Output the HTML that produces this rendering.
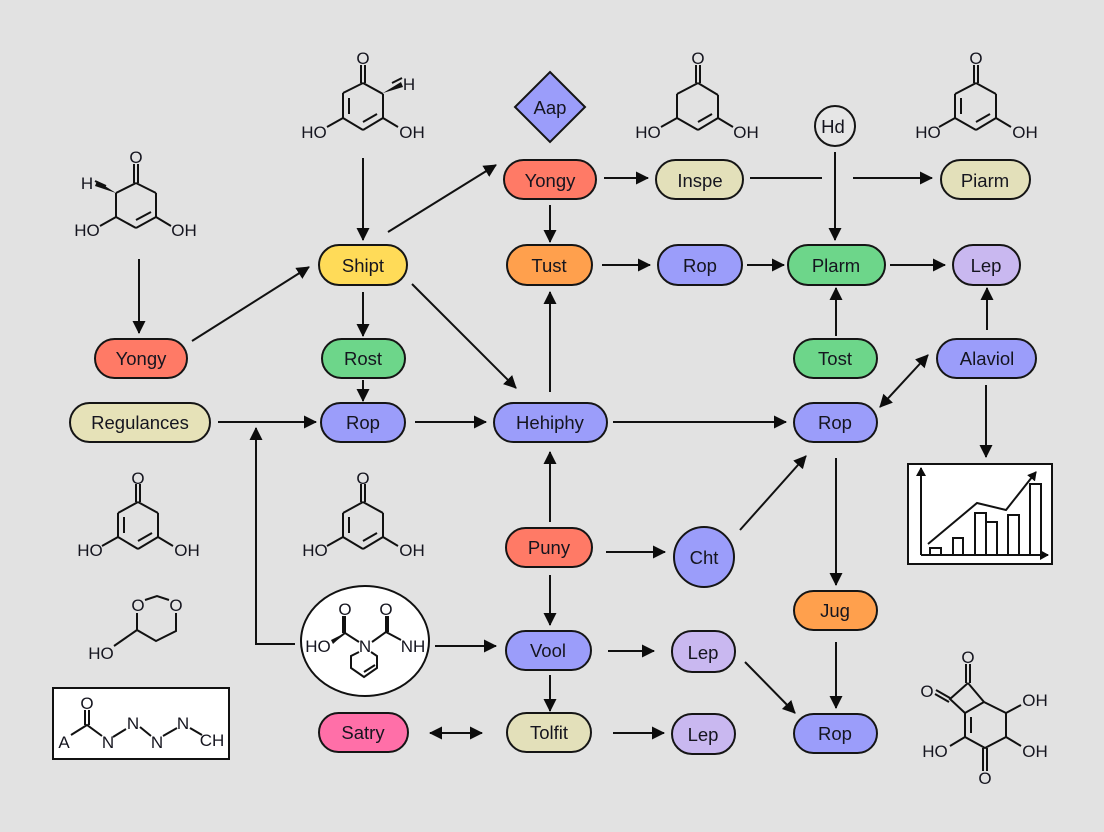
<!DOCTYPE html>
<html><head><meta charset="utf-8"><style>
html,body{margin:0;padding:0;background:#e2e2e2}
svg{display:block}
text{font-family:"Liberation Sans",sans-serif;fill:#15151f;text-anchor:middle}
.n rect,.n circle,.n path{stroke:#151515;stroke-width:2}
.n text{font-size:18.5px}
.m line,.m path.l{stroke:#111;stroke-width:2;fill:none}
.m text{font-size:17px}
.a line,.a polyline{stroke:#111;stroke-width:2;fill:none}
</style></head><body>
<svg width="1104" height="832" viewBox="0 0 1104 832" xmlns="http://www.w3.org/2000/svg">
<defs>
<marker id="e" markerUnits="userSpaceOnUse" markerWidth="16" markerHeight="14" refX="12" refY="7" orient="auto-start-reverse"><path d="M0,0.5L13,7L0,13.5Z" fill="#0c0c0c"/></marker>
<marker id="s" markerUnits="userSpaceOnUse" markerWidth="10" markerHeight="10" refX="8" refY="5" orient="auto"><path d="M0,0L9,5L0,10Z" fill="#0c0c0c"/></marker>
</defs>
<rect width="1104" height="832" fill="#e2e2e2"/>

<!-- connectors -->
<g class="a">
<line x1="363" y1="158" x2="363" y2="240" marker-end="url(#e)"/>
<line x1="388" y1="232" x2="496" y2="165" marker-end="url(#e)"/>
<line x1="192" y1="341" x2="309" y2="267" marker-end="url(#e)"/>
<line x1="139" y1="259" x2="139" y2="333" marker-end="url(#e)"/>
<line x1="363" y1="292" x2="363" y2="336" marker-end="url(#e)"/>
<line x1="363" y1="380" x2="363" y2="401" marker-end="url(#e)"/>
<line x1="218" y1="422" x2="316" y2="422" marker-end="url(#e)"/>
<line x1="415" y1="422" x2="486" y2="422" marker-end="url(#e)"/>
<line x1="613" y1="422" x2="786" y2="422" marker-end="url(#e)"/>
<line x1="412" y1="284" x2="516" y2="388" marker-end="url(#e)"/>
<line x1="550" y1="392" x2="550" y2="292" marker-end="url(#e)"/>
<line x1="550" y1="205" x2="550" y2="242" marker-end="url(#e)"/>
<line x1="604" y1="178" x2="648" y2="178" marker-end="url(#e)"/>
<line x1="750" y1="178" x2="822" y2="178"/>
<line x1="853" y1="178" x2="932" y2="178" marker-end="url(#e)"/>
<line x1="602" y1="265" x2="650" y2="265" marker-end="url(#e)"/>
<line x1="747" y1="265" x2="784" y2="265" marker-end="url(#e)"/>
<line x1="890" y1="265" x2="945" y2="265" marker-end="url(#e)"/>
<line x1="835" y1="152" x2="835" y2="240" marker-end="url(#e)"/>
<line x1="836" y1="336" x2="836" y2="288" marker-end="url(#e)"/>
<line x1="987" y1="330" x2="987" y2="288" marker-end="url(#e)"/>
<line x1="928" y1="355" x2="880" y2="407" marker-start="url(#e)" marker-end="url(#e)"/>
<line x1="986" y1="385" x2="986" y2="457" marker-end="url(#e)"/>
<line x1="836" y1="458" x2="836" y2="585" marker-end="url(#e)"/>
<line x1="836" y1="642" x2="836" y2="708" marker-end="url(#e)"/>
<line x1="550" y1="522" x2="550" y2="452" marker-end="url(#e)"/>
<line x1="606" y1="552" x2="665" y2="552" marker-end="url(#e)"/>
<line x1="740" y1="530" x2="806" y2="456" marker-end="url(#e)"/>
<line x1="550" y1="575" x2="550" y2="625" marker-end="url(#e)"/>
<polyline points="295,644 256,644 256,428" marker-end="url(#e)"/>
<line x1="435" y1="646" x2="496" y2="646" marker-end="url(#e)"/>
<line x1="608" y1="651" x2="654" y2="651" marker-end="url(#e)"/>
<line x1="745" y1="662" x2="795" y2="713" marker-end="url(#e)"/>
<line x1="550" y1="675" x2="550" y2="711" marker-end="url(#e)"/>
<line x1="430" y1="733" x2="482" y2="733" marker-start="url(#e)" marker-end="url(#e)"/>
<line x1="613" y1="733" x2="664" y2="733" marker-end="url(#e)"/>
</g>

<!-- nodes -->
<g class="n">
<rect x="95" y="339" width="92" height="39" rx="19.5" fill="#ff7a66"/><text x="141" y="365">Yongy</text>
<rect x="70" y="403" width="140" height="39" rx="19.5" fill="#e6e2b8"/><text x="140" y="429">Regulances</text>
<rect x="319" y="245" width="88" height="40" rx="20" fill="#ffdb58"/><text x="363" y="272">Shipt</text>
<rect x="322" y="339" width="83" height="39" rx="19.5" fill="#6dd68a"/><text x="363" y="365">Rost</text>
<rect x="321" y="403" width="84" height="39" rx="19.5" fill="#9b9dfa"/><text x="363" y="429">Rop</text>
<rect x="504" y="160" width="92" height="39" rx="19.5" fill="#ff7a66"/><text x="550" y="187">Yongy</text>
<rect x="656" y="160" width="87" height="39" rx="19.5" fill="#e3e0ba"/><text x="700" y="187">Inspe</text>
<rect x="941" y="160" width="89" height="39" rx="19.5" fill="#e3e0ba"/><text x="985" y="187">Piarm</text>
<rect x="507" y="245" width="85" height="40" rx="20" fill="#ffa04d"/><text x="549" y="272">Tust</text>
<rect x="658" y="245" width="84" height="40" rx="20" fill="#9b9dfa"/><text x="700" y="272">Rop</text>
<rect x="788" y="245" width="97" height="40" rx="20" fill="#6dd68a"/><text x="836" y="272">Plarm</text>
<rect x="953" y="245" width="67" height="40" rx="20" fill="#c9b8f0"/><text x="986" y="272">Lep</text>
<rect x="794" y="339" width="83" height="39" rx="19.5" fill="#6dd68a"/><text x="835" y="365">Tost</text>
<rect x="937" y="339" width="99" height="39" rx="19.5" fill="#9b9dfa"/><text x="987" y="365">Alaviol</text>
<rect x="494" y="403" width="113" height="39" rx="19.5" fill="#9b9dfa"/><text x="550" y="429">Hehiphy</text>
<rect x="794" y="403" width="83" height="39" rx="19.5" fill="#9b9dfa"/><text x="835" y="429">Rop</text>
<rect x="506" y="528" width="86" height="39" rx="19.5" fill="#ff7a66"/><text x="549" y="554">Puny</text>
<circle cx="704" cy="557" r="30" fill="#9b9dfa"/><text x="704" y="564">Cht</text>
<rect x="794" y="591" width="83" height="39" rx="19.5" fill="#ffa04d"/><text x="835" y="617">Jug</text>
<rect x="506" y="631" width="85" height="39" rx="19.5" fill="#9b9dfa"/><text x="548" y="657">Vool</text>
<rect x="672" y="631" width="63" height="41" rx="20" fill="#c9b8f0"/><text x="703" y="659">Lep</text>
<rect x="794" y="714" width="83" height="39" rx="19.5" fill="#9b9dfa"/><text x="835" y="740">Rop</text>
<rect x="319" y="713" width="89" height="39" rx="19.5" fill="#ff6fa8"/><text x="363" y="739">Satry</text>
<rect x="507" y="713" width="84" height="39" rx="19.5" fill="#e3e0ba"/><text x="549" y="739">Tolfit</text>
<rect x="672" y="714" width="63" height="40" rx="20" fill="#c9b8f0"/><text x="703" y="741">Lep</text>
<path d="M550,72L585,107L550,142L515,107Z" fill="#9b9dfa"/><text x="550" y="114">Aap</text>
<circle cx="835" cy="126" r="20" fill="#e6e6e6"/><text x="833" y="133">Hd</text>
</g>

<!-- molecules -->
<g class="m">
<!-- top centre -->
<line x1="363" y1="83" x2="383" y2="94"/><line x1="383" y1="94" x2="383" y2="118"/><line x1="383" y1="118" x2="363" y2="130"/><line x1="363" y1="130" x2="343" y2="118"/><line x1="343" y1="118" x2="343" y2="93"/><line x1="343" y1="93" x2="363" y2="83"/>
<line x1="349" y1="98" x2="349" y2="114"/><line x1="363" y1="122" x2="377" y2="114"/>
<line x1="361" y1="65" x2="361" y2="83"/><line x1="365" y1="65" x2="365" y2="83"/>
<path d="M383,93L401,82L403,87Z" fill="#111"/><line x1="392" y1="83" x2="402" y2="78"/>
<line x1="343" y1="118" x2="327" y2="127"/><line x1="383" y1="118" x2="398" y2="127"/>
<text x="363" y="64">O</text><text x="409" y="90">H</text><text x="314" y="138">HO</text><text x="412" y="138">OH</text>
<!-- left -->
<line x1="136" y1="183" x2="156" y2="193"/><line x1="156" y1="193" x2="156" y2="217"/><line x1="156" y1="217" x2="136" y2="228"/><line x1="136" y1="228" x2="116" y2="217"/><line x1="116" y1="217" x2="116" y2="193"/><line x1="116" y1="193" x2="136" y2="183"/>
<line x1="136" y1="220" x2="151" y2="212"/>
<line x1="134" y1="164" x2="134" y2="183"/><line x1="138" y1="164" x2="138" y2="183"/>
<path d="M116,193L97,181L95,186Z" fill="#111"/><line x1="95" y1="181" x2="106" y2="186"/>
<line x1="116" y1="217" x2="100" y2="226"/><line x1="156" y1="217" x2="171" y2="226"/>
<text x="136" y="163">O</text><text x="87" y="189">H</text><text x="87" y="236">HO</text><text x="184" y="236">OH</text>
<!-- top mid -->
<line x1="698" y1="83" x2="718" y2="95"/><line x1="718" y1="95" x2="718" y2="118"/><line x1="718" y1="118" x2="698" y2="130"/><line x1="698" y1="130" x2="677" y2="118"/><line x1="677" y1="118" x2="677" y2="94"/><line x1="677" y1="94" x2="698" y2="83"/>
<line x1="698" y1="122" x2="712" y2="114"/>
<line x1="696" y1="65" x2="696" y2="83"/><line x1="700" y1="65" x2="700" y2="83"/>
<line x1="677" y1="118" x2="661" y2="127"/><line x1="718" y1="118" x2="733" y2="127"/>
<text x="698" y="64">O</text><text x="648" y="138">HO</text><text x="746" y="138">OH</text>
<!-- top right -->
<line x1="976" y1="83" x2="996" y2="94"/><line x1="996" y1="94" x2="996" y2="118"/><line x1="996" y1="118" x2="976" y2="130"/><line x1="976" y1="130" x2="955" y2="118"/><line x1="955" y1="118" x2="955" y2="94"/><line x1="955" y1="94" x2="976" y2="83"/>
<line x1="961" y1="98" x2="961" y2="114"/><line x1="976" y1="122" x2="990" y2="114"/>
<line x1="974" y1="65" x2="974" y2="83"/><line x1="978" y1="65" x2="978" y2="83"/>
<line x1="955" y1="118" x2="939" y2="127"/><line x1="996" y1="118" x2="1011" y2="127"/>
<text x="976" y="64">O</text><text x="928" y="138">HO</text><text x="1025" y="138">OH</text>
<!-- mid left -->
<line x1="138" y1="502" x2="158" y2="513"/><line x1="158" y1="513" x2="158" y2="537"/><line x1="158" y1="537" x2="138" y2="549"/><line x1="138" y1="549" x2="118" y2="537"/><line x1="118" y1="537" x2="118" y2="513"/><line x1="118" y1="513" x2="138" y2="502"/>
<line x1="124" y1="517" x2="124" y2="533"/><line x1="138" y1="541" x2="152" y2="533"/>
<line x1="136" y1="484" x2="136" y2="502"/><line x1="140" y1="484" x2="140" y2="502"/>
<line x1="118" y1="537" x2="102" y2="546"/><line x1="158" y1="537" x2="173" y2="546"/>
<text x="138" y="484">O</text><text x="90" y="556">HO</text><text x="187" y="556">OH</text>
<!-- mid centre -->
<line x1="363" y1="502" x2="383" y2="513"/><line x1="383" y1="513" x2="383" y2="537"/><line x1="383" y1="537" x2="363" y2="549"/><line x1="363" y1="549" x2="343" y2="537"/><line x1="343" y1="537" x2="343" y2="513"/><line x1="343" y1="513" x2="363" y2="502"/>
<line x1="349" y1="517" x2="349" y2="533"/><line x1="363" y1="541" x2="377" y2="533"/>
<line x1="361" y1="484" x2="361" y2="502"/><line x1="365" y1="484" x2="365" y2="502"/>
<line x1="343" y1="537" x2="327" y2="546"/><line x1="383" y1="537" x2="398" y2="546"/>
<text x="363" y="484">O</text><text x="315" y="556">HO</text><text x="412" y="556">OH</text>
<!-- dioxane -->
<path class="l" d="M145,600L157,596L169,600M176,613V631L156,641L137,630V613M137,630L114,646"/>
<text x="138" y="611">O</text><text x="176" y="611">O</text><text x="101" y="659">HO</text>
</g>

<!-- ellipse molecule -->
<ellipse cx="365" cy="641" rx="64" ry="55" fill="#fff" stroke="#111" stroke-width="2"/>
<g class="m">
<path class="l" d="M345,616V633L359,642M386,616V632L372,642M386,632L401,640M333,642L345,633M371,652L377,656V668L364,677L351,668V656L359,652"/>
<line x1="343" y1="616" x2="343" y2="633"/><line x1="388" y1="616" x2="388" y2="632"/><line x1="364" y1="672" x2="375" y2="665"/>
<path d="M345,633L331,640L333,644Z" fill="#111"/>
<text x="345" y="615">O</text><text x="318" y="652">HO</text><text x="365" y="652">N</text><text x="386" y="615">O</text><text x="413" y="652">NH</text>
</g>

<!-- boxed chain -->
<rect x="53" y="688" width="176" height="71" fill="#fff" stroke="#111" stroke-width="2"/>
<g class="m">
<path class="l" d="M71,735L87,725L102,736M113,737L126,729M140,727L151,736M163,736L177,728M190,728L202,735"/>
<line x1="85" y1="710" x2="85" y2="725"/><line x1="89" y1="710" x2="89" y2="725"/>
<text x="87" y="709">O</text><text x="64" y="748">A</text><text x="108" y="748">N</text><text x="133" y="729">N</text><text x="157" y="748">N</text><text x="183" y="729">N</text><text x="212" y="746">CH</text>
</g>

<!-- chart -->
<rect x="908" y="464" width="144" height="100" fill="#fff" stroke="#111" stroke-width="2"/>
<g fill="none" stroke="#111" stroke-width="2">
<line x1="921" y1="555" x2="921" y2="468" marker-end="url(#s)"/>
<line x1="921" y1="555" x2="1048" y2="555" marker-end="url(#s)"/>
<rect x="930" y="548" width="11" height="7"/><rect x="953" y="538" width="10" height="17"/><rect x="975" y="513" width="11" height="42"/><rect x="986" y="522" width="11" height="33"/><rect x="1008" y="515" width="11" height="40"/><rect x="1030" y="484" width="11" height="71"/>
<polyline points="928,544 977,503 1006,510 1036,472" marker-end="url(#s)"/>
</g>

<!-- bottom right molecule -->
<g class="m">
<path class="l" d="M968,683L950,699L965,713L984,702L968,683M984,702L1006,713V737L985,748L965,737V713M1006,713L1021,705M1006,737L1021,746M965,737L950,746M971,717V733"/>
<line x1="966" y1="664" x2="966" y2="683"/><line x1="970" y1="664" x2="970" y2="683"/>
<line x1="936" y1="690" x2="950" y2="698"/><line x1="935" y1="694" x2="949" y2="702"/>
<line x1="983" y1="748" x2="983" y2="771"/><line x1="987" y1="748" x2="987" y2="771"/>
<text x="968" y="663">O</text><text x="927" y="697">O</text><text x="985" y="784">O</text><text x="935" y="757">HO</text><text x="1035" y="706">OH</text><text x="1035" y="757">OH</text>
</g>
</svg>
</body></html>
